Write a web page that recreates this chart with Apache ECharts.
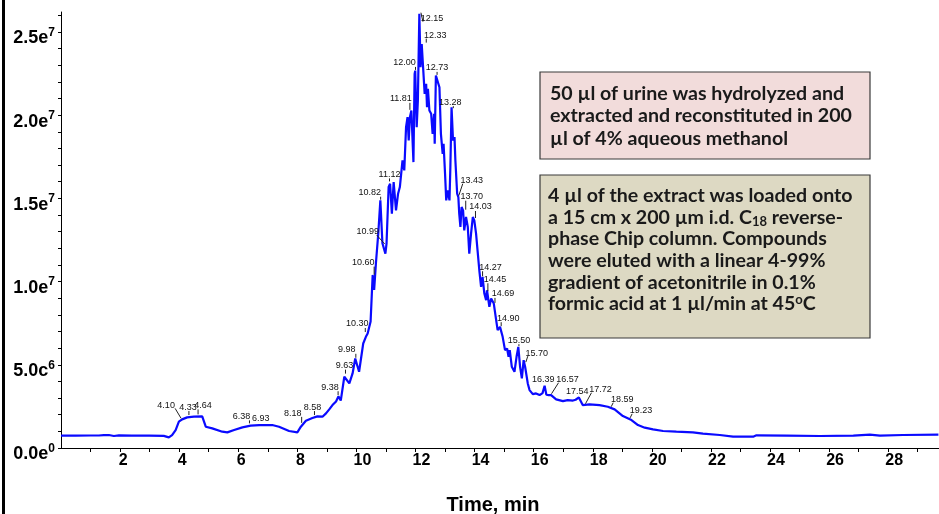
<!DOCTYPE html>
<html>
<head>
<meta charset="utf-8">
<script src="https://cdn.jsdelivr.net/npm/echarts@6/dist/echarts.min.js"></script>
<style>
html, body { margin: 0; padding: 0; background: #fff; }
#main { width: 939px; height: 514px; }
</style>
</head>
<body>
<div id="main"></div>
<script>
// retention time (min) of the traced points
var times = [0.0, 0.5, 1.0, 1.28, 1.45, 1.62, 1.79, 1.96, 2.4, 2.98, 3.48, 3.65, 3.76, 3.88, 3.99, 4.10, 4.27, 4.5, 4.78, 4.9,
    5.12, 5.46, 5.63, 5.86, 6.14, 6.42, 6.71, 7.15, 7.38, 7.72, 8.0, 8.12, 8.29, 8.51, 8.68, 8.85, 8.97, 9.08, 9.19, 9.31,
    9.39, 9.47, 9.59, 9.64, 9.76, 9.87, 9.96, 10.09, 10.23, 10.32, 10.38, 10.43, 10.48, 10.55, 10.6, 10.66, 10.74, 10.81, 10.88, 10.98,
    11.02, 11.09, 11.14, 11.2, 11.26, 11.34, 11.41, 11.47, 11.56, 11.62, 11.68, 11.73, 11.77, 11.81, 11.86, 11.93, 11.97, 11.99, 12.04, 12.08,
    12.13, 12.17, 12.21, 12.26, 12.31, 12.36, 12.39, 12.42, 12.47, 12.53, 12.58, 12.63, 12.65, 12.69, 12.73, 12.81, 12.86, 12.92, 12.95, 13.0,
    13.04, 13.09, 13.15, 13.18, 13.22, 13.27, 13.32, 13.35, 13.41, 13.45, 13.48, 13.52, 13.56, 13.61, 13.65, 13.71, 13.77, 13.82, 13.88, 13.94,
    13.99, 14.05, 14.1, 14.16, 14.22, 14.27, 14.33, 14.39, 14.42, 14.5, 14.56, 14.65, 14.73, 14.78, 14.86, 14.95, 15.03, 15.1, 15.15, 15.19,
    15.26, 15.35, 15.42, 15.48, 15.54, 15.6, 15.66, 15.71, 15.8, 15.86, 15.97, 16.08, 16.2, 16.3, 16.37, 16.43, 16.51, 16.59, 16.76, 16.99,
    17.15, 17.33, 17.42, 17.53, 17.66, 17.89, 18.23, 18.51, 18.74, 19.02, 19.31, 19.53, 19.76, 20.04, 20.38, 20.83, 21.39, 21.73, 22.3, 22.75,
    23.43, 23.54, 24.56, 25.69, 26.82, 27.38, 27.72, 28.5, 29.7];
// intensity in units of 1e6
var intensity = [0.74, 0.74, 0.75, 0.75, 0.77, 0.78, 0.72, 0.76, 0.74, 0.74, 0.73, 0.64, 0.78, 1.08, 1.58, 1.72, 1.84, 1.88, 1.9, 1.28,
    1.18, 0.98, 0.94, 1.08, 1.24, 1.34, 1.38, 1.38, 1.28, 1.02, 0.94, 1.28, 1.64, 1.8, 1.9, 1.88, 2.08, 2.32, 2.58, 2.8,
    3.1, 2.85, 4.28, 4.38, 3.88, 4.48, 5.38, 4.58, 6.28, 6.68, 6.88, 7.0, 7.6, 10.4, 9.5, 11.1, 12.9, 14.88, 12.3, 11.68,
    12.3, 15.68, 15.88, 14.08, 15.98, 14.28, 15.28, 15.68, 17.28, 16.68, 19.28, 19.88, 18.48, 19.88, 20.28, 17.18, 22.48, 22.68, 19.28, 20.88,
    26.1, 22.88, 24.28, 24.38, 21.28, 21.88, 20.48, 21.58, 20.28, 20.08, 18.88, 20.08, 18.28, 22.38, 22.38, 21.68, 18.88, 17.68, 18.28, 16.48,
    14.88, 15.48, 14.88, 16.88, 20.48, 18.48, 18.68, 17.28, 15.28, 15.08, 14.08, 13.28, 14.48, 14.28, 13.08, 13.88, 13.28, 11.68, 12.88, 13.88,
    13.68, 12.88, 11.88, 10.68, 9.68, 10.28, 9.28, 8.88, 9.48, 8.48, 8.98, 8.68, 7.68, 7.08, 7.28, 6.68, 5.88, 5.98, 5.48, 5.88,
    4.88, 4.58, 5.48, 6.08, 4.88, 4.18, 5.28, 4.88, 3.88, 3.48, 3.24, 3.28, 3.18, 3.3, 3.74, 3.2, 3.18, 3.18, 2.92, 2.82,
    2.88, 2.85, 2.9, 3.04, 2.58, 2.62, 2.58, 2.48, 2.32, 1.92, 1.68, 1.38, 1.22, 1.12, 1.02, 0.98, 0.94, 0.86, 0.78, 0.68,
    0.68, 0.76, 0.74, 0.72, 0.74, 0.8, 0.74, 0.78, 0.8];

// labelled peaks (retention time, intensity x1e6)
var peakTimes = [4.10, 4.33, 4.64, 6.38, 6.93, 8.18, 8.58, 9.38, 9.63, 9.98, 10.30, 10.60, 10.82, 10.99, 11.12, 11.81, 12.00, 12.15,
    12.33, 12.73, 13.28, 13.43, 13.70, 14.03, 14.27, 14.45, 14.69, 14.90, 15.50, 15.70, 16.39, 16.57, 17.54, 17.72, 18.59, 19.23];
var peakIntensity = [1.72, 1.86, 1.9, 1.36, 1.38, 1.45, 1.86, 3.05, 4.35, 5.3, 6.85, 10.3, 14.8, 12.2, 15.9, 20.2, 22.6, 26.1,
    24.3, 22.3, 20.3, 15.1, 14.2, 13.7, 10.2, 9.3, 8.6, 7.2, 6.0, 5.1, 3.7, 3.2, 3.0, 2.6, 2.42, 1.75];

// axis tick labels
var xTickLabels = [2, 4, 6, 8, 10, 12, 14, 16, 18, 20, 22, 24, 26, 28];
var yTickValues = [0, 5e6, 1e7, 1.5e7, 2e7, 2.5e7];
var yTickMantissa = ['0.0e', '5.0c', '1.0e', '1.5e', '2.0e', '2.5e'];
var yTickExponent = ['0', '6', '7', '7', '7', '7'];

// the two notes on the right
var note1 = [
    '50 µl of urine was hydrolyzed and',
    'extracted and reconstituted in 200',
    'µl of 4% aqueous methanol'
];
var note2 = [
    '4 µl of the extract was loaded onto',
    'a 15 cm x 200 µm i.d. C{sub|18} reverse-',
    'phase Chip column. Compounds',
    'were eluted with a linear 4-99%',
    'gradient of acetonitrile in 0.1%',
    'formic acid at 1 µl/min at 45{sup|o}C'
];

// where each peak label sits: 'v' = tick straight up, 'l'/'r' = slanted leader; offset of label centre in px
var peakLabelPos = [
    ['l', -16, -14], ['v', -1, -10], ['v', 5, -11], ['v', -8, -9], ['v', -5, -7], ['l', -10, -10], ['v', -2, -10],
    ['v', -8, -10], ['v', -1, -10], ['v', -9, -10], ['v', -8, -10], ['v', -11, -14], ['v', -11, -9], ['l', -18, -13],
    ['v', 0, -9], ['v', -9, -13], ['v', -11, -9], ['r', 12, 5], ['r', 10, -8], ['v', 0, -9], ['v', -3, -8],
    ['r', 14, -16], ['v', 6, -15], ['v', 5, -13], ['v', 8, -11], ['v', 7, -14], ['v', 8, -11], ['v', 7, -10],
    ['v', 0, -8], ['r', 12, -10], ['v', -2, -7], ['r', 17, -15], ['v', -2, -7], ['r', 16, -15], ['r', 12, -8], ['r', 12, -8]
];

var traceData = times.map(function (t, i) { return [t, intensity[i] * 1e6]; });
var peakData = peakTimes.map(function (t, i) { return [t, peakIntensity[i] * 1e6]; });

var yTicks = [];
for (var k = 0; k <= 26; k++) yTicks.push(k * 1e6);

var noteFont = 'bold 19.6px Lato, "Open Sans", sans-serif';
var noteSmall = 'bold 13px Lato, "Open Sans", sans-serif';

var myChart = echarts.init(document.getElementById('main'), null, { renderer: 'canvas' });

var option = {
    animation: false,
    backgroundColor: '#fff',
    grid: { left: 61, right: 0, top: 12, bottom: 66 },
    xAxis: {
        type: 'value',
        min: 0,
        max: 29.72,
        axisLine: { show: true, onZero: false, lineStyle: { color: '#000', width: 1 } },
        axisTick: { show: true, interval: 0, length: 4, lineStyle: { color: '#000' },
            customValues: [1, 2, 3, 4, 5, 6, 7, 8, 9, 10, 11, 12, 13, 14, 15, 16, 17, 18, 19, 20, 21, 22, 23, 24, 25, 26, 27, 28, 29] },
        axisLabel: {
            customValues: xTickLabels,
            margin: 5,
            formatter: function (v) {
                return (v < 10 ? '{a|' : '{b|') + v + '}';
            },
            rich: {
                a: { fontSize: 16, fontWeight: 'bold', fontFamily: '"Liberation Sans", Arial', color: '#000', padding: [0, 0, 0, 6] },
                b: { fontSize: 16, fontWeight: 'bold', fontFamily: '"Liberation Sans", Arial', color: '#000', padding: [0, 0, 0, 12] }
            }
        },
        splitLine: { show: false }
    },
    yAxis: {
        type: 'value',
        min: 0,
        max: 26.2e6,
        axisLine: { show: true, lineStyle: { color: '#000', width: 1 } },
        axisTick: { show: true, length: 3, lineStyle: { color: '#000' }, customValues: yTicks },
        axisLabel: {
            customValues: yTickValues,
            margin: 6,
            padding: [13, 0, 0, 0],
            formatter: function (v) {
                var i = yTickValues.indexOf(v);
                return '{m|' + yTickMantissa[i] + '}{s|' + yTickExponent[i] + '}';
            },
            rich: {
                m: { fontSize: 18, fontWeight: 'bold', fontFamily: '"Liberation Sans", Arial', color: '#000', lineHeight: 24 },
                s: { fontSize: 12, fontWeight: 'bold', fontFamily: '"Liberation Sans", Arial', color: '#000', verticalAlign: 'top' }
            }
        },
        splitLine: { show: false }
    },
    series: [{
        name: 'TIC',
        type: 'line',
        data: traceData,
        showSymbol: false,
        lineStyle: { color: '#0a0aff', width: 2.2 },
        z: 2
    }, {
        name: 'peaks',
        type: 'custom',
        data: peakData,
        clip: false,
        z: 3,
        renderItem: function (params, api) {
            var p = api.coord([api.value(0), api.value(1)]);
            var pos = peakLabelPos[params.dataIndex];
            var kind = pos[0], dx = pos[1], dy = pos[2];
            var lx = p[0] + dx, ly = p[1] + dy;
            var line;
            if (kind === 'v') {
                line = { x1: p[0], y1: p[1] - 2, x2: p[0], y2: ly + 4 };
            } else if (kind === 'r') {
                line = { x1: p[0] + 1, y1: p[1] - 1, x2: lx - 9, y2: ly + 3 };
            } else {
                line = { x1: p[0] - 1, y1: p[1] - 1, x2: lx + 9, y2: ly + 3 };
            }
            var children = [];
            if (Math.abs(line.y2 - line.y1) > 1.5 || Math.abs(line.x2 - line.x1) > 1.5) {
                children.push({ type: 'line', shape: line, style: { stroke: '#222', lineWidth: 1 } });
            }
            children.push({
                type: 'text',
                style: {
                    text: peakTimes[params.dataIndex].toFixed(2),
                    x: lx, y: ly,
                    align: 'center', verticalAlign: 'middle',
                    font: '9px "Liberation Sans", Arial',
                    fill: '#111'
                }
            });
            return { type: 'group', children: children };
        }
    }],
    graphic: [
        // frame edge on the left
        { type: 'rect', left: 2, top: 0, shape: { width: 3, height: 514 }, style: { fill: '#000' } },
        { type: 'rect', x: 540, y: 72, shape: { width: 330, height: 87 }, style: { fill: '#f2dcdb', stroke: '#3a3a3a', lineWidth: 1.2 } },
        {
            type: 'text', x: 550, y: 82,
            style: {
                text: note1.join('\n'),
                font: noteFont,
                fill: '#1a1a1a', lineHeight: 22.5, verticalAlign: 'top'
            }
        },
        { type: 'rect', x: 540, y: 175, shape: { width: 330, height: 163 }, style: { fill: '#ddd9c3', stroke: '#3a3a3a', lineWidth: 1.2 } },
        {
            type: 'text', x: 548, y: 185,
            style: {
                text: note2.join('\n'),
                font: noteFont,
                fill: '#1a1a1a', lineHeight: 21.6, verticalAlign: 'top',
                rich: {
                    sub: { font: noteSmall, fill: '#1a1a1a', verticalAlign: 'bottom', lineHeight: 8 },
                    sup: { font: noteSmall, fill: '#1a1a1a', verticalAlign: 'top' }
                }
            }
        },
        {
            type: 'text', x: 493, y: 505,
            style: {
                text: 'Time, min',
                font: 'bold 20px "Liberation Sans", Arial',
                fill: '#000', align: 'center', verticalAlign: 'middle'
            }
        }
    ]
};

myChart.setOption(option);
</script>
</body>
</html>
